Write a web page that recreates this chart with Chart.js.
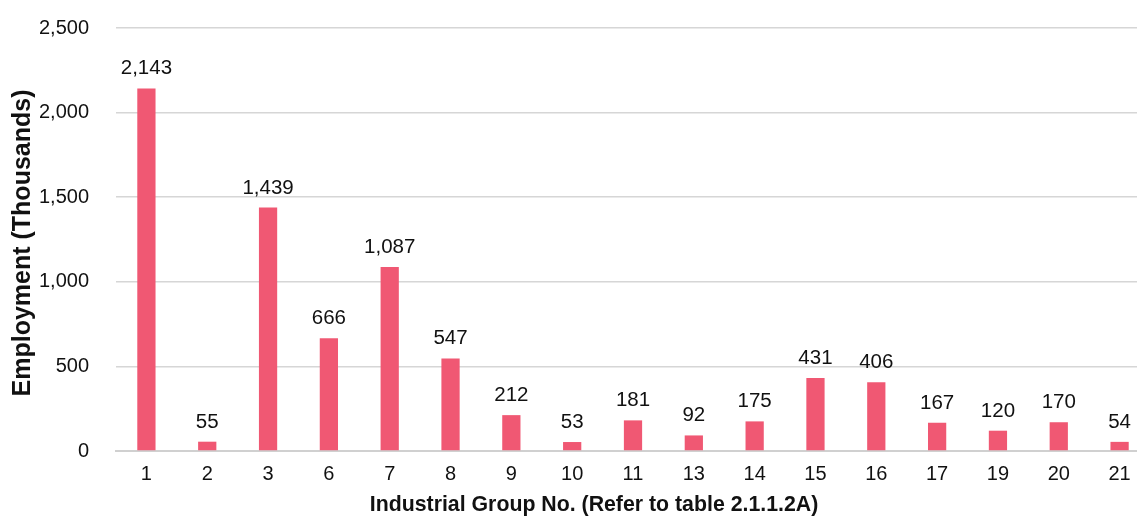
<!DOCTYPE html>
<html><head><meta charset="utf-8">
<script src="https://cdn.jsdelivr.net/npm/chart.js@4"></script>
<style>html,body{margin:0;padding:0;overflow:hidden;background:#fff}#wrap{width:1150px;height:516px}</style>
</head><body><div id="wrap"><canvas id="c"></canvas></div>
<script>
const categories = ["1","2","3","6","7","8","9","10","11","13","14","15","16","17","19","20","21"];
const employment = [2143,55,1439,666,1087,547,212,53,181,92,175,431,406,167,120,170,54];
const yTicks = [0,500,1000,1500,2000,2500];
const xTitle = 'Industrial Group No. (Refer to table 2.1.1.2A)';
const yTitle = 'Employment (Thousands)';

const fmt = v => v.toLocaleString('en-US');
const FONT = '"Liberation Sans", Arial, sans-serif';
const labelPlugin = {
  id:'lbl',
  afterDatasetsDraw(chart){
    const ctx = chart.ctx;
    const meta = chart.getDatasetMeta(0);
    ctx.save();
    ctx.font = '20.5px ' + FONT;
    ctx.fillStyle = '#111';
    ctx.textAlign = 'center';
    ctx.textBaseline = 'alphabetic';
    meta.data.forEach((b,i)=>{
      ctx.fillText(fmt(employment[i]), b.x, b.y - 14);
    });
    ctx.font = 'bold 21.3px ' + FONT;
    ctx.textBaseline = 'middle';
    ctx.fillText(xTitle, 594, 505);
    ctx.translate(23, 243);
    ctx.rotate(-Math.PI/2);
    ctx.font = 'bold 25px ' + FONT;
    ctx.fillText(yTitle, 0, 0);
    ctx.restore();
  }
};
Chart.defaults.font.family = FONT;
Chart.defaults.color = '#111';
new Chart(document.getElementById('c'), {
  type:'bar',
  data:{labels:categories, datasets:[{data:employment, backgroundColor:'rgb(240,88,115)', barPercentage:0.3, categoryPercentage:1}]},
  options:{
    responsive:true, maintainAspectRatio:false, animation:false,
    layout:{padding:{top:28,left:0,right:0,bottom:0}},
    plugins:{legend:{display:false}, tooltip:{enabled:false}},
    scales:{
      x:{
        grid:{display:false, drawTicks:false},
        border:{color:'#d0d0d0', width:2},
        ticks:{font:{size:20}, padding:11, maxRotation:0},
        afterFit(a){ a.height = 516-451; a.paddingLeft = 0; a.paddingRight = 0; }
      },
      y:{
        min:0, max:2500,
        afterBuildTicks(a){ a.ticks = yTicks.map(v=>({value:v})); },
        grid:{color:'#d6d6d6', lineWidth:1.5, drawTicks:false},
        border:{display:false},
        ticks:{font:{size:20}, padding:27, callback:v=>fmt(v)},
        afterFit(a){ a.width = 116; a.paddingTop = 0; a.paddingBottom = 0; }
      }
    }
  },
  plugins:[labelPlugin]
});
</script></body></html>
